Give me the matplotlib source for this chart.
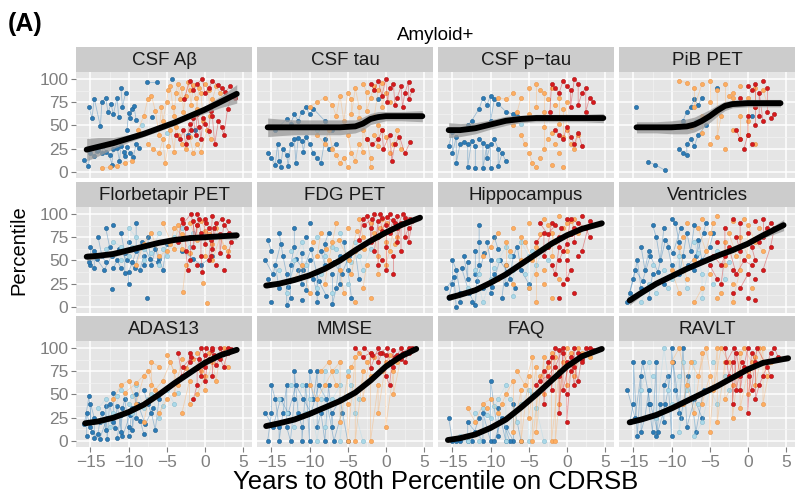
import matplotlib
matplotlib.use("Agg")
import matplotlib.pyplot as plt
import numpy as np

plt.rcParams['font.family'] = ['Liberation Sans', 'DejaVu Sans']

# ---------------- data ----------------
TITLES = ["CSF A\u03b2", "CSF tau", "CSF p\u2212tau", "PiB PET",
          "Florbetapir PET", "FDG PET", "Hippocampus", "Ventricles",
          "ADAS13", "MMSE", "FAQ", "RAVLT"]
X_TICKS = [-15, -10, -5, 0, 5]
Y_TICKS = [0, 25, 50, 75, 100]

# CSF Abeta
CSF_AB_BLUE = [(-15.2, 70), (-14.8, 58), (-14.5, 79), (-13.7, 49), (-13.5, 75), (-13.0, 80), (-12.7, 64), (-12.3, 73),
               (-12.0, 62), (-11.5, 80), (-11.3, 59), (-11.0, 90), (-10.8, 70), (-10.4, 85), (-10.2, 45), (-10.0, 63),
               (-9.8, 58), (-9.6, 68), (-9.3, 71), (-9.0, 56),
               (-15.8, 13), (-15.3, 6), (-15.0, 20), (-14.5, 17), (-14.2, 23), (-14.0, 24), (-13.5, 20), (-13.3, 28),
               (-13.0, 22), (-12.5, 18), (-12.2, 8), (-12.0, 25), (-11.5, 26), (-11.2, 12), (-11.0, 28), (-10.6, 22),
               (-10.5, 17), (-10.2, 27), (-9.8, 20), (-9.4, 16), (-9.0, 30), (-8.6, 26),
               (-7.6, 97), (-6.3, 97), (-4.3, 100), (-6.9, 59), (-2.2, 40), (-1.3, 45)]
CSF_AB_LBLUE = [(-8.2, 50), (-5.0, 42)]
CSF_AB_ORANGE = [(-13.5, 4), (-12.5, 5), (-11.5, 6), (-10.5, 10), (-9.5, 12), (-8.8, 45), (-8.0, 60), (-7.5, 78),
                 (-7.0, 82), (-6.5, 66), (-6.0, 40), (-5.7, 70), (-5.5, 55), (-5.0, 75), (-4.8, 88), (-4.5, 92),
                 (-4.2, 70), (-4.0, 60), (-3.8, 85), (-3.5, 95), (-3.2, 78), (-3.0, 90), (-2.8, 65), (-2.5, 82),
                 (-2.2, 97), (-2.0, 88), (-1.8, 72), (-1.5, 93), (-1.2, 80), (-1.0, 68), (-0.8, 90), (-0.5, 85),
                 (-0.2, 55), (0.0, 95), (0.5, 88), (0.7, 60), (1.0, 78), (1.5, 92), (2.0, 85),
                 (-7.5, 30), (-6.8, 25), (-6.0, 20), (-5.5, 35), (-5.2, 10), (-4.8, 28), (-4.5, 45), (-4.0, 22),
                 (-3.8, 48), (-3.5, 40), (-3.0, 30), (-2.5, 25), (-2.0, 38), (-1.5, 20), (-1.0, 30), (-0.5, 22),
                 (0.3, 45), (0.8, 35)]
CSF_AB_RED = [(-3.8, 40), (-3.2, 35), (-2.8, 45), (-2.5, 30), (-2.2, 38), (-2.0, 52), (-1.8, 45), (-1.5, 58),
              (-1.2, 40), (-1.0, 62), (-0.7, 48), (-0.5, 35), (-0.2, 58), (0.0, 52), (0.5, 44), (0.8, 66),
              (1.0, 60), (1.3, 30), (1.8, 55), (2.2, 48), (2.5, 40), (3.0, 68), (3.5, 82), (4.0, 80),
              (-2.7, 78), (-2.0, 98), (-1.5, 88), (-1.0, 95), (-0.3, 100), (0.0, 85), (0.5, 90), (1.0, 98),
              (1.7, 93), (2.2, 90), (2.7, 86), (3.3, 92)]
CSF_AB_FIT_X = [-15.5, -14, -12, -10, -8, -6, -4, -2, 0, 2, 4.2]
CSF_AB_FIT_Y = [24, 27, 31, 36, 41, 47, 53, 60, 67, 75, 84]
CSF_AB_FIT_SE = [12, 10, 6, 4, 3, 3, 3, 3, 4, 6, 10]

# CSF tau
CSF_TAU_BLUE = [(-15.0, 48), (-14.5, 45), (-13.0, 57), (-12.5, 52), (-12.0, 62), (-11.5, 55), (-11.0, 65),
                (-10.5, 70), (-10.0, 62), (-9.5, 68), (-8.0, 55), (-7.0, 45),
                (-15.5, 20), (-15.0, 15), (-14.5, 8), (-14.2, 30), (-14.0, 12), (-13.8, 5), (-13.5, 25), (-13.0, 18),
                (-12.8, 6), (-12.5, 30), (-12.0, 35), (-11.8, 10), (-11.5, 36), (-11.0, 33), (-10.8, 22),
                (-10.5, 38), (-10.0, 30), (-9.5, 20), (-9.0, 15), (-8.5, 10), (-8.0, 35), (-7.5, 25), (-6.5, 30),
                (-1.0, 78)]
CSF_TAU_LBLUE = [(-9.0, 45)]
CSF_TAU_ORANGE = [(-10.0, 70), (-9.0, 75), (-8.0, 80), (-7.0, 72), (-6.5, 60), (-6.0, 82), (-5.5, 55), (-5.0, 85),
                  (-4.5, 78), (-4.5, 62), (-4.0, 90), (-3.5, 70), (-3.5, 58), (-3.0, 95), (-2.5, 86), (-2.5, 66),
                  (-2.0, 80), (-1.5, 92), (-1.5, 60), (-1.0, 88), (-0.5, 96), (-0.5, 70), (0.0, 85), (0.5, 75),
                  (-9.0, 40), (-8.0, 30), (-7.5, 45), (-7.0, 25), (-6.5, 18), (-6.0, 10), (-5.5, 15), (-5.0, 5),
                  (-5.0, 40), (-4.5, 20), (-4.0, 12), (-3.5, 30), (-3.0, 22), (-3.0, 45), (-2.5, 35), (-2.0, 15),
                  (-2.0, 5), (-1.5, 40), (-1.0, 28), (-1.0, 50), (-0.5, 45), (0.0, 38), (0.5, 20), (1.0, 30),
                  (1.5, 45), (2.0, 25)]
CSF_TAU_RED = [(-2.0, 95), (-1.5, 88), (-1.0, 98), (-0.5, 82), (0.0, 100), (0.2, 75), (0.5, 90), (1.0, 95),
               (1.2, 72), (1.5, 80), (2.0, 92), (2.2, 70), (2.5, 85), (3.0, 97), (3.0, 78), (3.5, 88),
               (-2.5, 35), (-1.8, 30), (-1.0, 35), (-0.5, 45), (-0.3, 25), (0.5, 40), (0.8, 12), (1.2, 30),
               (1.8, 38), (2.5, 20), (3.2, 32)]
CSF_TAU_FIT_X = [-15.5, -14, -12, -10, -8, -6, -4, -3, -2, -1, 0, 2, 4.8]
CSF_TAU_FIT_Y = [48, 48, 48, 48, 48, 48, 49, 52, 57, 59, 60, 60, 60]
CSF_TAU_FIT_SE = [10, 9, 8, 8, 8, 8, 7, 7, 6, 6, 5, 5, 6]

# CSF p-tau
CSF_PTAU_BLUE = [(-13.0, 50), (-12.5, 55), (-11.5, 68), (-11.0, 80), (-10.5, 72), (-10.0, 82), (-10.0, 55),
                 (-9.5, 78), (-9.0, 73), (-8.0, 65), (-7.0, 62), (-6.5, 60),
                 (-15.5, 28), (-15.0, 43), (-15.0, 20), (-14.5, 38), (-14.5, 10), (-14.0, 30), (-13.5, 32),
                 (-13.0, 30), (-13.0, 5), (-12.5, 33), (-12.0, 28), (-12.0, 4), (-11.5, 35), (-11.0, 31),
                 (-11.0, 4), (-10.5, 28), (-10.5, 15), (-10.0, 30), (-10.0, 4), (-9.5, 35), (-9.0, 25),
                 (-9.0, 6), (-8.5, 20), (-8.0, 12)]
CSF_PTAU_LBLUE = [(-6.0, 52)]
CSF_PTAU_ORANGE = [(-9.0, 80), (-8.0, 78), (-7.0, 85), (-7.0, 50), (-6.5, 65), (-6.0, 80), (-6.0, 40), (-5.5, 30),
                   (-5.0, 90), (-5.0, 62), (-5.0, 20), (-4.5, 10), (-4.0, 95), (-4.0, 70), (-4.0, 5), (-3.5, 88),
                   (-3.5, 15), (-3.0, 85), (-3.0, 65), (-3.0, 48), (-3.0, 25), (-2.5, 78), (-2.5, 35), (-2.0, 90),
                   (-2.0, 42), (-2.0, 8), (-1.5, 72), (-1.5, 30), (-1.0, 80), (-1.0, 52), (-1.0, 20), (-0.5, 68),
                   (-0.5, 38), (-0.5, 5), (0.0, 75), (0.0, 45), (0.5, 30), (1.0, 25), (1.5, 40)]
CSF_PTAU_RED = [(-2.2, 65), (-2.0, 95), (-1.5, 90), (-1.0, 85), (-0.5, 98), (0.0, 92), (0.5, 88), (0.5, 70),
                (1.0, 100), (1.5, 95), (1.5, 72), (2.0, 85), (2.5, 90), (2.5, 65), (3.0, 80), (3.5, 75),
                (-1.5, 45), (-1.0, 40), (-0.5, 35), (0.0, 48), (0.5, 38), (1.0, 30), (1.5, 42), (2.0, 28)]
CSF_PTAU_FIT_X = [-15.5, -14, -12, -10, -8, -6, -4, -2, 0, 2, 4.8]
CSF_PTAU_FIT_Y = [45, 45, 47, 51, 55, 57, 58, 58, 58, 58, 58]
CSF_PTAU_FIT_SE = [8, 7, 6, 5, 5, 4, 4, 4, 4, 4, 5]

# PiB PET
PIB_BLUE = [(-14.7, 70), (-13.1, 11), (-12.2, 8), (-10.9, 2),
            (-9.0, 48), (-8.5, 55), (-8.0, 65), (-7.5, 70), (-7.0, 78), (-6.5, 72), (-6.0, 80),
            (-9.0, 25), (-8.5, 20), (-8.0, 18), (-8.0, 30), (-7.5, 35), (-7.0, 28), (-6.5, 40), (-5.5, 50),
            (-4.0, 90), (0.5, 60)]
PIB_LBLUE = [(-6.8, 55)]
PIB_ORANGE = [(-9.0, 98), (-8.0, 96), (-7.5, 48), (-7.0, 90), (-7.0, 70), (-6.0, 95), (-6.0, 60), (-6.0, 42),
              (-5.0, 98), (-5.0, 75), (-5.0, 30), (-4.0, 88), (-4.0, 65), (-4.0, 38), (-3.5, 60), (-3.0, 95),
              (-3.0, 72), (-3.0, 25), (-2.5, 82), (-2.0, 85), (-2.0, 80), (-2.0, 45), (-1.0, 92), (-1.0, 60),
              (-1.0, 35), (0.0, 80), (0.0, 55), (0.0, 40), (1.0, 90), (1.0, 70), (1.0, 30), (2.0, 88),
              (2.5, 75)]
PIB_RED = [(-1.5, 45), (-1.0, 35), (-1.0, 80), (-0.5, 25), (0.0, 40), (0.0, 60), (0.0, 92), (0.5, 30), (0.5, 88),
           (1.0, 50), (1.0, 70), (1.0, 95), (1.5, 60), (1.5, 85), (2.0, 55), (2.0, 98), (2.5, 65), (2.5, 90),
           (3.0, 58), (3.5, 62)]
PIB_FIT_X = [-14.6, -12, -10, -8, -7, -6, -5, -4, -3, -2, 0, 2, 4.3]
PIB_FIT_Y = [48, 48, 48, 49, 51, 55, 60, 66, 71, 73, 74, 74, 74]
PIB_FIT_SE = [6, 6, 7, 8, 8, 8, 7, 6, 5, 4, 4, 4, 4]

# Florbetapir PET
FBP_BLUE = [(-15.5, 55), (-15.0, 45), (-15.0, 65), (-14.5, 60), (-14.5, 42), (-14.0, 75), (-13.5, 55), (-13.0, 48),
            (-13.0, 85), (-12.5, 65), (-12.2, 19), (-12.0, 88), (-12.0, 42), (-11.5, 50), (-11.0, 42), (-11.0, 80),
            (-10.5, 58), (-10.5, 36), (-10.0, 70), (-10.0, 25), (-10.0, 38), (-9.5, 48), (-9.0, 60), (-9.0, 90),
            (-8.5, 40), (-8.0, 55), (-8.0, 45), (-7.6, 10), (-7.5, 75), (-7.0, 45), (-6.5, 62), (-6.0, 52),
            (-5.5, 40), (-5.0, 68), (-3.0, 60), (-1.5, 52), (-0.5, 45), (1.0, 55),
            (-15.2, 48), (-14.2, 52), (-13.2, 40), (-12.2, 55), (-11.2, 62), (-10.2, 50), (-9.2, 42), (-8.2, 70),
            (-7.2, 52), (-6.2, 48)]
FBP_LBLUE = [(-13.0, 62), (-12.0, 70), (-11.0, 65), (-11.0, 50), (-10.0, 55), (-10.0, 85), (-9.0, 75), (-8.0, 62),
             (-8.0, 50), (-7.0, 58), (-6.0, 80), (-6.0, 45), (-5.0, 70), (-5.0, 55), (-4.0, 75), (-3.0, 85),
             (-2.0, 65),
             (-9.5, 65), (-7.5, 68), (-5.5, 62), (-3.5, 72), (-1.5, 80)]
FBP_ORANGE = [(-9.0, 45), (-8.0, 68), (-7.0, 80), (-6.0, 55), (-5.0, 60), (-4.5, 68), (-4.0, 85), (-3.0, 78),
              (-3.0, 62), (-2.9, 16), (-2.5, 45), (-2.0, 90), (-1.0, 72), (-1.0, 88), (-0.2, 26), (0.0, 82),
              (0.0, 55), (0.3, 4), (1.0, 68), (1.0, 50), (2.0, 75), (3.0, 60),
              (-5.5, 90), (-4.0, 62), (-3.5, 88), (-2.0, 58), (-0.5, 92), (0.5, 78), (1.5, 85), (2.5, 65)]
FBP_RED = [(-3.5, 70), (-3.0, 95), (-2.5, 85), (-2.5, 60), (-2.2, 40), (-2.0, 75), (-2.0, 50), (-1.5, 92),
           (-1.5, 65), (-1.0, 88), (-1.0, 45), (-1.0, 100), (-0.5, 80), (-0.5, 55), (-0.3, 38), (0.0, 95),
           (0.0, 68), (0.5, 85), (0.5, 50), (0.8, 72), (1.0, 98), (1.0, 62), (1.5, 90), (1.5, 45), (2.0, 78),
           (2.0, 58), (2.5, 88), (2.5, 40), (3.0, 92), (3.0, 55), (3.5, 70),
           (-2.8, 90), (-1.8, 100), (-1.2, 75), (-0.8, 95), (0.2, 90), (0.8, 55), (1.2, 85), (2.2, 95), (3.2, 80)]
FBP_FIT_X = [-15.5, -14, -12, -10, -8, -6, -4, -2, 0, 2, 4.2]
FBP_FIT_Y = [54, 55, 57, 61, 65, 69, 72, 74, 75, 76, 77]
FBP_FIT_SE = [4, 3, 3, 3, 2, 2, 2, 2, 3, 3, 4]

# FDG PET
FDG_BLUE = [(-15.5, 30), (-15.5, 72), (-15.0, 60), (-15.0, 5), (-14.5, 45), (-14.0, 20), (-14.0, 80), (-13.5, 55),
            (-13.0, 35), (-13.0, 2), (-12.5, 10), (-12.5, 45), (-12.0, 65), (-12.0, 85), (-11.5, 40), (-11.0, 25),
            (-11.0, 58), (-11.0, 8), (-10.5, 75), (-10.5, 18), (-10.0, 50), (-10.0, 90), (-9.5, 30), (-9.0, 15),
            (-9.0, 38), (-9.0, 5), (-8.5, 60), (-8.0, 45), (-8.0, 68), (-7.5, 80), (-7.0, 35), (-7.0, 3),
            (-6.5, 20), (-6.0, 55), (-6.0, 25), (-5.5, 70), (-5.0, 40), (-4.5, 10), (-4.0, 60), (-3.5, 30),
            (-15.8, 50), (-14.8, 35), (-13.8, 68), (-12.8, 22), (-11.8, 52), (-10.8, 40), (-9.8, 62), (-8.8, 28),
            (-7.8, 12), (-6.8, 48), (-5.8, 35), (-4.8, 55)]
FDG_LBLUE = [(-14.0, 40), (-13.0, 15), (-12.0, 50), (-11.0, 70), (-10.0, 35), (-9.0, 75), (-9.0, 20), (-8.0, 55),
             (-7.0, 65), (-7.0, 15), (-6.0, 80), (-5.0, 50), (-5.0, 25), (-4.0, 70), (-3.0, 40), (-2.0, 62),
             (-12.5, 60), (-10.5, 45), (-8.5, 35), (-6.5, 62), (-4.5, 48), (-3.5, 55)]
FDG_ORANGE = [(-12.0, 30), (-11.0, 45), (-10.0, 15), (-9.0, 55), (-8.5, 80), (-8.0, 25), (-7.5, 50), (-7.0, 70),
              (-6.5, 90), (-6.0, 40), (-5.5, 15), (-5.0, 85), (-4.5, 35), (-4.0, 60), (-4.0, 5), (-3.5, 95),
              (-3.0, 75), (-3.0, 20), (-2.5, 45), (-2.0, 90), (-2.0, 10), (-1.5, 80), (-1.0, 55), (-1.0, 35),
              (-0.5, 95), (0.0, 70), (0.0, 45), (0.5, 60), (1.0, 85), (1.5, 75), (2.0, 88),
              (-9.5, 70), (-7.8, 62), (-6.2, 72), (-4.8, 50), (-3.8, 82), (-2.8, 62), (-1.8, 72), (-0.8, 85),
              (0.2, 90), (1.2, 68)]
FDG_RED = [(-3.5, 72), (-3.0, 95), (-2.5, 98), (-2.0, 85), (-2.0, 70), (-1.5, 100), (-1.5, 60), (-1.0, 92),
           (-1.0, 75), (-1.0, 45), (-0.5, 96), (-0.5, 50), (0.0, 88), (0.0, 65), (0.0, 40), (0.5, 100), (0.5, 80),
           (1.0, 94), (1.0, 55), (1.0, 35), (1.5, 98), (1.5, 70), (2.0, 90), (2.0, 60), (2.5, 96), (2.5, 75),
           (3.0, 85), (3.0, 70), (3.5, 92),
           (-2.8, 88), (-1.8, 95), (-0.8, 100), (-0.5, 82), (0.2, 97), (1.2, 90), (1.5, 85), (2.2, 100), (3.2, 95)]
FDG_FIT_X = [-15.7, -14, -12, -10, -8, -6, -4, -2, 0, 2, 4.5]
FDG_FIT_Y = [23, 25, 29, 34, 41, 50, 61, 71, 80, 88, 96]
FDG_FIT_SE = [3, 2, 2, 2, 2, 2, 2, 2, 2, 2, 3]

# Hippocampus
HIP_BLUE = [(-15.5, 10), (-15.0, 25), (-15.0, 50), (-14.5, 40), (-14.0, 15), (-14.0, 5), (-13.5, 55), (-13.0, 30),
            (-13.0, 48), (-12.5, 5), (-12.0, 60), (-12.0, 35), (-11.5, 45), (-11.5, 70), (-11.5, 88), (-11.0, 20),
            (-10.5, 70), (-10.0, 50), (-10.0, 15), (-9.5, 35), (-9.5, 75), (-9.0, 62), (-8.5, 10), (-8.0, 45),
            (-8.0, 25), (-7.5, 30), (-7.0, 55), (-6.5, 65), (-6.0, 40), (-5.0, 25),
            (-15.8, 20), (-14.8, 32), (-14.5, 0), (-13.8, 42), (-12.8, 15), (-12.0, 2), (-11.8, 28), (-10.8, 58),
            (-9.8, 22), (-8.8, 50), (-7.8, 38), (-6.8, 20)]
HIP_LBLUE = [(-13.0, 20), (-12.0, 40), (-11.0, 5), (-10.0, 30), (-9.0, 50), (-8.0, 65), (-7.0, 40), (-7.0, 12),
             (-6.0, 70), (-5.0, 55), (-5.0, 20), (-4.0, 45), (-3.0, 62),
             (-11.5, 35), (-9.5, 42), (-7.5, 55), (-5.5, 35), (-4.5, 60), (-2.5, 50)]
HIP_ORANGE = [(-11.0, 55), (-10.0, 65), (-9.0, 80), (-9.0, 30), (-8.0, 70), (-8.0, 45), (-7.0, 85), (-7.0, 25),
              (-6.0, 75), (-6.0, 50), (-5.0, 90), (-5.0, 20), (-4.0, 65), (-4.0, 35), (-4.0, 5), (-3.0, 95),
              (-3.0, 40), (-2.0, 80), (-2.0, 55), (-2.0, 10), (-1.0, 98), (-1.0, 30), (0.0, 90), (0.0, 60),
              (1.0, 95), (2.0, 85),
              (-7.5, 60), (-5.5, 70), (-4.5, 50), (-3.5, 78), (-3.0, 25), (-2.5, 88), (-1.5, 70), (-0.5, 85),
              (0.5, 92), (1.5, 80)]
HIP_RED = [(-4.0, 70), (-3.0, 80), (-3.0, 55), (-2.5, 65), (-2.0, 90), (-2.0, 45), (-1.5, 35), (-1.0, 65),
           (-1.0, 75), (-1.0, 10), (-0.8, 85), (-0.5, 25), (0.0, 95), (0.0, 50), (0.0, 30), (0.5, 40), (0.5, 78),
           (1.0, 85), (1.0, 70), (1.0, 15), (1.5, 55), (2.0, 98), (2.0, 60), (3.0, 92),
           (-3.5, 90), (-2.5, 78), (-1.5, 88), (-1.0, 50), (-0.5, 60), (0.0, 68), (0.5, 95), (1.5, 90),
           (2.5, 85), (3.0, 75)]
HIP_FIT_X = [-15.4, -14, -12, -10, -8, -6, -4, -2, 0, 2, 4.6]
HIP_FIT_Y = [10, 13, 18, 26, 35, 46, 57, 68, 77, 84, 90]
HIP_FIT_SE = [3, 2, 2, 2, 2, 2, 2, 2, 2, 2, 3]

# Ventricles
VEN_BLUE = [(-15.5, 15), (-15.0, 30), (-14.5, 50), (-14.0, 20), (-14.0, 65), (-13.5, 40), (-13.0, 60), (-13.0, 10),
            (-12.5, 35), (-12.5, 88), (-12.0, 75), (-11.5, 50), (-11.0, 85), (-11.0, 25), (-10.5, 65), (-10.0, 45),
            (-10.0, 95), (-9.5, 90), (-9.0, 70), (-9.0, 35), (-8.5, 55), (-8.0, 80), (-7.5, 60), (-7.0, 88),
            (-7.0, 40), (-6.5, 72), (-6.0, 50), (-5.0, 65), (-4.5, 80),
            (-15.8, 5), (-14.8, 40), (-13.8, 28), (-12.8, 55), (-11.8, 38), (-10.8, 72), (-9.8, 58), (-8.8, 85),
            (-7.8, 45), (-6.8, 55), (-5.8, 80), (-5.5, 90)]
VEN_LBLUE = [(-14.0, 5), (-13.0, 25), (-12.0, 15), (-11.0, 40), (-10.0, 30), (-9.0, 55), (-8.0, 20), (-7.0, 70),
             (-6.0, 35), (-6.0, 10), (-5.0, 45), (-4.0, 60), (-3.0, 30),
             (-12.5, 45), (-10.5, 20), (-8.5, 40), (-6.5, 58), (-4.5, 25), (-2.5, 48)]
VEN_ORANGE = [(-10.0, 40), (-9.0, 15), (-9.0, 65), (-8.0, 30), (-8.0, 90), (-7.0, 50), (-7.0, 5), (-6.0, 20),
              (-6.0, 95), (-5.0, 35), (-5.0, 80), (-4.0, 10), (-4.0, 55), (-4.0, 98), (-3.0, 45), (-3.0, 70),
              (-2.0, 25), (-2.0, 92), (-2.0, 5), (-1.0, 40), (-1.0, 75), (0.0, 55), (0.0, 88), (1.0, 70),
              (2.0, 60),
              (-8.5, 75), (-6.5, 85), (-5.5, 60), (-4.5, 90), (-3.5, 15), (-2.5, 80), (-1.5, 55), (-0.5, 95),
              (0.5, 20), (1.5, 85)]
VEN_RED = [(-5.0, 45), (-4.0, 30), (-4.0, 70), (-3.5, 25), (-3.0, 55), (-3.0, 85), (-2.0, 40), (-2.0, 95),
           (-2.0, 15), (-1.5, 75), (-1.0, 60), (-1.0, 90), (-1.0, 20), (0.0, 35), (0.0, 80), (0.0, 10), (0.5, 65),
           (1.0, 50), (1.0, 92), (1.0, 30), (2.0, 75), (2.0, 95), (2.0, 40), (3.0, 65), (3.5, 85),
           (-4.5, 55), (-3.5, 45), (-2.5, 65), (-1.5, 35), (-0.5, 50), (0.5, 45), (1.0, 8), (1.5, 70),
           (2.5, 85), (3.0, 90)]
VEN_FIT_X = [-15.5, -14, -12, -10, -8, -6, -4, -2, 0, 2, 4.7]
VEN_FIT_Y = [7, 15, 25, 33, 41, 48, 55, 61, 68, 77, 88]
VEN_FIT_SE = [5, 3, 2, 2, 2, 2, 2, 2, 2, 3, 6]

# ADAS13
ADAS_BLUE = [(-15.5, 5), (-15.5, 30), (-15.0, 15), (-15.0, 40), (-14.5, 25), (-14.5, 3), (-14.0, 8), (-13.8, 20),
             (-13.5, 30), (-13.0, 12), (-13.0, 38), (-12.8, 2), (-12.5, 40), (-12.0, 20), (-12.0, 52), (-11.5, 3),
             (-11.0, 28), (-11.0, 10), (-10.8, 35), (-10.5, 45), (-10.0, 15), (-10.0, 5), (-9.5, 35), (-9.5, 12),
             (-9.0, 50), (-9.0, 25), (-8.5, 22), (-8.0, 8), (-8.0, 55), (-7.5, 40), (-7.0, 30), (-6.5, 12),
             (-6.0, 45),
             (-15.8, 18), (-15.2, 48), (-14.8, 10), (-13.8, 2), (-12.8, 25), (-11.8, 14), (-11.5, 38), (-10.8, 5),
             (-9.8, 28), (-8.8, 40), (-7.8, 18), (-6.8, 35)]
ADAS_LBLUE = [(-14.0, 35), (-13.0, 45), (-12.5, 15), (-12.0, 30), (-11.0, 55), (-10.0, 40), (-9.5, 48), (-9.0, 60),
              (-8.0, 35), (-7.0, 50), (-6.0, 25), (-5.0, 55), (-4.0, 40),
              (-13.5, 22), (-11.5, 48), (-9.5, 30), (-7.5, 45), (-5.5, 38), (-3.5, 52)]
ADAS_ORANGE = [(-12.0, 45), (-11.0, 60), (-10.0, 65), (-9.0, 40), (-8.0, 70), (-8.0, 20), (-7.0, 60), (-7.0, 85),
               (-6.0, 80), (-6.0, 30), (-5.0, 45), (-5.0, 92), (-4.0, 75), (-4.0, 50), (-3.0, 88), (-3.0, 30),
               (-2.0, 65), (-2.0, 40), (-1.0, 95), (-1.0, 50), (0.0, 70), (0.0, 55), (1.0, 85), (1.5, 65),
               (2.0, 92), (3.0, 80),
               (-10.5, 52), (-9.0, 62), (-7.5, 75), (-6.5, 55), (-5.5, 65), (-4.5, 85), (-3.5, 60), (-2.5, 78),
               (-1.5, 88), (-0.5, 75), (0.5, 95), (2.5, 100)]
ADAS_RED = [(-3.5, 95), (-3.0, 70), (-2.0, 85), (-2.0, 95), (-1.5, 45), (-1.0, 60), (-1.0, 78), (-0.5, 100),
            (0.0, 92), (0.0, 80), (0.0, 65), (0.5, 88), (1.0, 98), (1.0, 70), (1.0, 100), (2.0, 100), (2.0, 88),
            (2.5, 80), (3.0, 95), (3.5, 99),
            (-2.8, 80), (-1.8, 90), (-0.8, 88), (-0.5, 70), (0.2, 100), (1.2, 92), (1.5, 82), (2.2, 95), (3.0, 100)]
ADAS_FIT_X = [-15.7, -14, -12, -10, -8, -6, -4, -2, 0, 2, 4.2]
ADAS_FIT_Y = [19, 21, 25, 31, 39, 50, 62, 73, 84, 92, 98]
ADAS_FIT_SE = [2, 2, 2, 2, 2, 2, 2, 2, 2, 2, 2]

# MMSE
MMSE_BLUE = [(-15.5, 0), (-15.0, 30), (-15.0, 60), (-14.5, 45), (-14.0, 15), (-14.0, 0), (-13.5, 30), (-13.0, 60),
             (-13.0, 15), (-12.5, 0), (-12.0, 45), (-12.0, 75), (-11.5, 30), (-11.0, 15), (-11.0, 0), (-10.5, 60),
             (-10.0, 0), (-10.0, 75), (-9.5, 45), (-9.0, 75), (-9.0, 15), (-8.5, 30), (-8.0, 0), (-7.5, 60),
             (-7.0, 15), (-7.0, 30), (-6.0, 45), (-5.0, 0),
             (-15.8, 30), (-14.8, 15), (-13.8, 45), (-12.8, 30), (-11.8, 60), (-10.8, 45), (-9.8, 30), (-8.8, 60),
             (-7.8, 45), (-6.8, 0), (-5.8, 30)]
MMSE_LBLUE = [(-14.0, 45), (-13.0, 30), (-12.0, 15), (-11.0, 60), (-10.0, 45), (-9.0, 0), (-8.0, 75), (-8.0, 15),
              (-7.0, 45), (-6.0, 60), (-6.0, 0), (-5.0, 75), (-4.0, 30), (-3.0, 0),
              (-12.5, 60), (-10.5, 30), (-8.5, 45), (-6.5, 75), (-4.5, 60), (-3.5, 45)]
MMSE_ORANGE = [(-10.0, 60), (-9.0, 45), (-8.0, 60), (-7.0, 75), (-6.0, 85), (-6.0, 20), (-5.0, 70), (-5.0, 40),
               (-5.0, 0), (-4.0, 90), (-4.0, 0), (-3.0, 75), (-3.0, 45), (-2.0, 95), (-2.0, 70), (-2.0, 0),
               (-1.0, 60), (-1.0, 30), (0.0, 85), (0.0, 15), (1.0, 75), (1.0, 50), (2.0, 90),
               (-8.5, 75), (-7.5, 85), (-6.5, 60), (-4.5, 80), (-3.5, 95), (-2.5, 85), (-1.5, 90), (-0.5, 75),
               (0.5, 92), (1.5, 85)]
MMSE_RED = [(-4.0, 100), (-3.0, 90), (-2.0, 95), (-2.0, 78), (-1.0, 100), (-1.0, 85), (-0.5, 95), (0.0, 92),
            (0.0, 70), (0.5, 60), (1.0, 98), (1.0, 80), (1.5, 92), (2.0, 100), (2.0, 88), (2.5, 85), (3.0, 95),
            (3.5, 100),
            (-2.8, 100), (-1.8, 92), (-0.8, 95), (0.2, 100), (0.5, 85), (1.2, 90), (2.2, 95), (3.0, 100)]
MMSE_FIT_X = [-15.7, -14, -12, -10, -8, -6, -4, -2, 0, 2, 4.0]
MMSE_FIT_Y = [16, 19, 23, 29, 36, 43, 52, 65, 80, 91, 99]
MMSE_FIT_SE = [2, 2, 2, 2, 2, 2, 2, 2, 2, 2, 2]

# FAQ
FAQ_BLUE = [(-15.5, 25), (-15.0, 0), (-14.0, 0), (-13.0, 0), (-13.0, 20), (-12.0, 10), (-11.0, 0), (-11.0, 30),
            (-10.0, 0), (-10.0, 65), (-9.0, 5), (-9.0, 35), (-8.0, 0), (-8.0, 15), (-7.0, 0), (-7.0, 40),
            (-6.0, 0),
            (-14.5, 0), (-12.5, 0), (-11.5, 25), (-9.5, 0), (-8.5, 25), (-7.5, 0)]
FAQ_LBLUE = [(-14.0, 5), (-13.0, 0), (-12.0, 30), (-11.0, 35), (-10.0, 25), (-9.0, 45), (-8.0, 60), (-8.0, 0),
             (-7.0, 30), (-6.0, 40), (-5.0, 55), (-5.0, 0), (-4.0, 35), (-3.0, 0),
             (-11.5, 0), (-10.5, 28), (-9.5, 38), (-7.5, 45), (-6.5, 20), (-4.5, 50)]
FAQ_ORANGE = [(-13.0, 35), (-12.0, 20), (-11.0, 40), (-10.0, 45), (-9.0, 30), (-8.0, 50), (-7.0, 65), (-7.0, 10),
              (-6.0, 55), (-6.0, 0), (-5.0, 70), (-5.0, 25), (-4.0, 80), (-4.0, 10), (-3.0, 90), (-3.0, 50),
              (-2.0, 95), (-2.0, 0), (-1.0, 75), (-1.0, 40), (0.0, 100), (0.0, 60), (1.0, 85), (1.0, 70),
              (2.0, 95), (3.0, 90),
              (-10.5, 35), (-8.5, 40), (-6.5, 75), (-5.5, 60), (-4.5, 90), (-4.5, 0), (-3.5, 70), (-2.5, 80),
              (-1.5, 90), (-1.5, 0), (-0.5, 85), (0.5, 95), (1.5, 100)]
FAQ_RED = [(-4.0, 60), (-3.0, 75), (-3.0, 40), (-2.5, 85), (-2.0, 90), (-2.0, 55), (-1.5, 100), (-1.0, 98),
           (-1.0, 70), (-1.0, 30), (-0.5, 95), (0.0, 85), (0.0, 50), (0.0, 20), (0.5, 75), (1.0, 100), (1.0, 80),
           (1.5, 65), (2.0, 92), (2.0, 88), (3.0, 100), (3.5, 98),
           (-3.5, 65), (-2.5, 70), (-1.5, 80), (-0.5, 100), (-0.5, 55), (0.5, 90), (1.0, 60), (1.5, 95),
           (2.0, 85), (2.5, 100)]
FAQ_FIT_X = [-15.6, -14, -12, -10, -8, -6, -4, -2, 0, 2, 4.6]
FAQ_FIT_Y = [1, 3, 7, 14, 23, 36, 50, 65, 80, 91, 99]
FAQ_FIT_SE = [2, 2, 2, 2, 2, 2, 2, 2, 2, 2, 2]

# RAVLT
RAV_BLUE = [(-15.5, 20), (-15.0, 40), (-15.0, 85), (-14.5, 5), (-14.0, 70), (-14.0, 10), (-13.5, 25), (-13.0, 55),
            (-13.0, 40), (-12.5, 10), (-12.0, 85), (-12.0, 5), (-11.5, 40), (-11.0, 20), (-11.0, 60), (-10.5, 70),
            (-10.0, 5), (-10.0, 100), (-9.5, 55), (-9.0, 30), (-8.5, 100), (-8.0, 15), (-7.0, 45), (-6.0, 25),
            (-15.8, 55), (-14.8, 25), (-13.8, 85), (-12.8, 40), (-11.8, 10), (-10.8, 40), (-9.8, 85), (-8.8, 25),
            (-7.8, 70), (-6.8, 10), (-5.8, 55)]
RAV_LBLUE = [(-14.0, 55), (-13.0, 85), (-12.0, 25), (-11.0, 100), (-10.0, 40), (-9.0, 70), (-9.0, 10), (-8.0, 55),
             (-7.0, 85), (-7.0, 5), (-6.0, 20), (-5.0, 55), (-4.0, 40), (-3.0, 70),
             (-12.5, 70), (-10.5, 55), (-8.5, 85), (-6.5, 40), (-4.5, 85), (-2.5, 55)]
RAV_ORANGE = [(-10.0, 85), (-9.0, 100), (-8.0, 60), (-7.0, 30), (-6.0, 95), (-6.0, 40), (-5.0, 70), (-5.0, 10),
              (-4.0, 100), (-4.0, 20), (-3.0, 85), (-3.0, 45), (-2.0, 60), (-2.0, 25), (-1.0, 95), (-1.0, 35),
              (0.0, 75), (0.0, 50), (1.0, 90), (1.0, 60), (2.0, 100), (2.0, 40), (3.0, 85),
              (-8.5, 40), (-7.5, 85), (-6.5, 70), (-5.5, 100), (-4.5, 55), (-3.5, 100), (-2.5, 85), (-1.5, 70),
              (-0.5, 100), (0.5, 85), (1.5, 100), (2.5, 70)]
RAV_RED = [(-3.0, 100), (-2.5, 70), (-2.0, 85), (-2.0, 40), (-1.5, 95), (-1.0, 70), (-1.0, 55), (-0.5, 80),
           (0.0, 100), (0.0, 30), (0.5, 95), (1.0, 85), (1.0, 45), (1.5, 60), (2.0, 70), (2.5, 80), (3.0, 95),
           (3.5, 100), (4.0, 90),
           (-2.8, 85), (-1.8, 100), (-1.5, 55), (-0.8, 85), (0.2, 70), (0.5, 55), (1.2, 100), (2.2, 85), (3.0, 70)]
RAV_FIT_X = [-15.5, -14, -12, -10, -8, -6, -4, -2, 0, 2, 4, 5.3]
RAV_FIT_Y = [20, 23, 28, 35, 43, 51, 59, 68, 77, 84, 87, 89]
RAV_FIT_SE = [2, 2, 2, 2, 2, 2, 2, 2, 2, 2, 2, 3]

# -------------- panel assembly --------------
PANELS = [
    (CSF_AB_BLUE, CSF_AB_LBLUE, CSF_AB_ORANGE, CSF_AB_RED, CSF_AB_FIT_X, CSF_AB_FIT_Y, CSF_AB_FIT_SE),
    (CSF_TAU_BLUE, CSF_TAU_LBLUE, CSF_TAU_ORANGE, CSF_TAU_RED, CSF_TAU_FIT_X, CSF_TAU_FIT_Y, CSF_TAU_FIT_SE),
    (CSF_PTAU_BLUE, CSF_PTAU_LBLUE, CSF_PTAU_ORANGE, CSF_PTAU_RED, CSF_PTAU_FIT_X, CSF_PTAU_FIT_Y, CSF_PTAU_FIT_SE),
    (PIB_BLUE, PIB_LBLUE, PIB_ORANGE, PIB_RED, PIB_FIT_X, PIB_FIT_Y, PIB_FIT_SE),
    (FBP_BLUE, FBP_LBLUE, FBP_ORANGE, FBP_RED, FBP_FIT_X, FBP_FIT_Y, FBP_FIT_SE),
    (FDG_BLUE, FDG_LBLUE, FDG_ORANGE, FDG_RED, FDG_FIT_X, FDG_FIT_Y, FDG_FIT_SE),
    (HIP_BLUE, HIP_LBLUE, HIP_ORANGE, HIP_RED, HIP_FIT_X, HIP_FIT_Y, HIP_FIT_SE),
    (VEN_BLUE, VEN_LBLUE, VEN_ORANGE, VEN_RED, VEN_FIT_X, VEN_FIT_Y, VEN_FIT_SE),
    (ADAS_BLUE, ADAS_LBLUE, ADAS_ORANGE, ADAS_RED, ADAS_FIT_X, ADAS_FIT_Y, ADAS_FIT_SE),
    (MMSE_BLUE, MMSE_LBLUE, MMSE_ORANGE, MMSE_RED, MMSE_FIT_X, MMSE_FIT_Y, MMSE_FIT_SE),
    (FAQ_BLUE, FAQ_LBLUE, FAQ_ORANGE, FAQ_RED, FAQ_FIT_X, FAQ_FIT_Y, FAQ_FIT_SE),
    (RAV_BLUE, RAV_LBLUE, RAV_ORANGE, RAV_RED, RAV_FIT_X, RAV_FIT_Y, RAV_FIT_SE),
]
# max vertical jump of connecting lines per panel (style)
LINE_DY = [30, 30, 30, 30, 30, 35, 35, 35, 40, 100, 100, 100]

COLORS = ['#2c7bb6', '#abd9e9', '#fdae61', '#d7191c']
EDGE = ['#1f5f8f', '#86bccf', '#e8944a', '#a81416']

# -------------- figure --------------
W, H = 796, 496
fig = plt.figure(figsize=(W / 100, H / 100), dpi=100)
fig.patch.set_facecolor('white')
COL_LEFT = [76, 257, 438, 619]
ROW_TOP = [72, 207, 341]
PW, PH, SH = 176, 106, 25


def rect(l, t, w, h):
    return [l / W, 1 - (t + h) / H, w / W, h / H]


def chain_segments(pts, max_dy):
    segs, cur = [], [pts[0]]
    for p, q in zip(pts[:-1], pts[1:]):
        if q[0] >= p[0] and q[0] - p[0] <= 1.6 and abs(q[1] - p[1]) <= max_dy:
            cur.append(q)
        else:
            if len(cur) > 1:
                segs.append(cur)
            cur = [q]
    if len(cur) > 1:
        segs.append(cur)
    return segs


for i, (title, panel) in enumerate(zip(TITLES, PANELS)):
    r, c = divmod(i, 4)
    l, t = COL_LEFT[c], ROW_TOP[r]
    ax = fig.add_axes(rect(l, t, PW, PH))
    ax.set_facecolor('#E5E5E5')
    for s in ax.spines.values():
        s.set_visible(False)
    ax.set_xlim(-16.9, 6.2)
    ax.set_ylim(-6.5, 107.5)
    ax.set_xticks(X_TICKS)
    ax.set_yticks(Y_TICKS)
    ax.set_xticks([-12.5, -7.5, -2.5, 2.5], minor=True)
    ax.set_yticks([12.5, 37.5, 62.5, 87.5], minor=True)
    ax.grid(True, which='major', color='white', lw=1.1, zorder=0)
    ax.grid(True, which='minor', color='#F2F2F2', lw=0.5, zorder=0)
    ax.set_axisbelow(True)
    ax.tick_params(which='minor', length=0)
    ax.tick_params(which='major', color='#7F7F7F', labelcolor='#7F7F7F', labelsize=12.5,
                   length=3.5, width=0.8, pad=2)
    if c != 0:
        ax.tick_params(axis='y', length=0, labelleft=False)
    if r != 2:
        ax.tick_params(axis='x', length=0, labelbottom=False)
    ax.set_xticklabels([str(v).replace('-', '\u2212') for v in X_TICKS])

    groups = panel[:4]
    fx, fy, fse = panel[4], panel[5], panel[6]
    for g, pts in enumerate(groups):
        for seg in chain_segments(pts, LINE_DY[i]):
            sx, sy = zip(*seg)
            ax.plot(sx, sy, color=COLORS[g], lw=0.6, alpha=0.4, zorder=2 + g)
        px, py = zip(*pts)
        ax.plot(px, py, 'o', ms=3.0, color=COLORS[g], mec=EDGE[g], mew=0.4, zorder=2.5 + g)

    fx = np.asarray(fx, float)
    fy = np.asarray(fy, float)
    fse = np.asarray(fse, float)
    ax.fill_between(fx, fy - fse, fy + fse, color='#9A9A9A', alpha=0.75, lw=0, zorder=8)
    ax.plot(fx, fy, color='black', lw=4.2, solid_capstyle='round', zorder=9)

    sax = fig.add_axes(rect(l, t - SH, PW, SH))
    sax.set_facecolor('#CCCCCC')
    sax.set_xticks([])
    sax.set_yticks([])
    for s in sax.spines.values():
        s.set_visible(False)
    sax.text(0.5, 0.45, title, ha='center', va='center', fontsize=13.5, color='#1A1A1A',
             transform=sax.transAxes)

fig.text(8 / W, 1 - 24 / H, "(A)", fontsize=18, fontweight='bold', ha='left', va='center')
fig.text(436 / W, 1 - 36 / H, "Amyloid+", fontsize=13.5, ha='center', va='center')
fig.text(436 / W, 1 - 482 / H, "Years to 80th Percentile on CDRSB", fontsize=18.5, ha='center', va='center')
fig.text(19 / W, 1 - 250 / H, "Percentile", fontsize=14.5, rotation=90, ha='center', va='center')

fig.savefig('out.png', dpi=100)
